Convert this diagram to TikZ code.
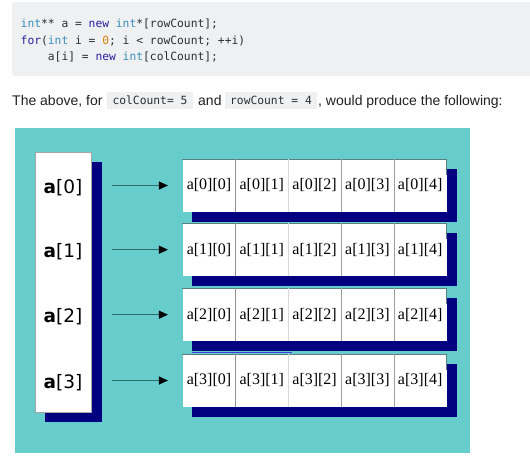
\documentclass[tikz,border=0pt]{standalone}
\usepackage{fontspec}
\setmainfont{Liberation Sans}
\newfontfamily\codefont{DejaVu Sans Mono}
\newfontfamily\cellfont{Liberation Serif}
\newfontfamily\labfont{DejaVu Sans}
\usetikzlibrary{arrows.meta,backgrounds}
\definecolor{panelcyan}{HTML}{66CCCC}
\definecolor{shadownavy}{HTML}{000080}
\definecolor{codebg}{HTML}{EEF0F2}
\definecolor{kwtype}{HTML}{3A8EBA}
\definecolor{kwnew}{HTML}{2A1E9E}
\definecolor{numlit}{HTML}{D2840A}
\definecolor{codetext}{HTML}{2E2E2E}
\definecolor{ptrline}{HTML}{2E6B6B}
\definecolor{rowedge}{HTML}{5A7F80}
\definecolor{strayblue}{HTML}{3C3CD8}
\newcommand{\ty}[1]{\textcolor{kwtype}{#1}}
\newcommand{\kw}[1]{\textcolor{kwnew}{#1}}
\newcommand{\nm}[1]{\textcolor{numlit}{#1}}
\tikzstyle{codeline} = [anchor=base west, inner sep=0pt, text=codetext,
    font=\codefont\fontsize{11.3}{13}\selectfont]
\tikzstyle{prose} = [anchor=base west, inner sep=0pt, text=black!87,
    font=\fontsize{14}{16}\selectfont]
\tikzstyle{inlinecode} = [fill=codebg, inner sep=0pt, minimum height=17pt,
    text=codetext, font=\codefont\fontsize{11.3}{13}\selectfont]
\tikzstyle{cell} = [fill=white, minimum width=52.8pt, minimum height=52.4pt,
    inner sep=0pt, font=\cellfont\fontsize{16}{16}\selectfont]
\tikzstyle{idxlabel} = [inner sep=0pt, font=\labfont\fontsize{18.5}{20}\selectfont]
\tikzstyle{ptr} = [ptrline, line width=1.2pt, shorten >=14.5pt,
    -{Triangle[length=9pt,width=8pt,black]}]

\begin{document}
\begin{tikzpicture}[x=1pt,y=-1pt]
    \useasboundingbox (0,0) rectangle (530,467);
    % code listing
    \node[codeline] (line1) at (20.5,27.3) {\ty{int}** a = \kw{new} \ty{int}*[rowCount];};
    \node[codeline] (line2) at (20.5,44) {\kw{for}(\ty{int} i = \nm{0}; i < rowCount; ++i)};
    \node[codeline] (line3) at (20.5,60.7) {\phantom{xxxx}a[i] = \kw{new} \ty{int}[colCount];};
    % sentence
    \node[prose] (intro) at (12,105.5) {The above, for};
    \node[inlinecode, minimum width=86pt] (colarg) at (150,100.5) {colCount= 5};
    \node[prose] (andword) at (198,105.5) {and};
    \node[inlinecode, minimum width=92pt] (rowarg) at (271,100.5) {rowCount = 4};
    \node[prose] (outro) at (318,105.5) {, would produce the following:};
    % panel
    \node[fill=white, draw=gray!70, line width=0.8pt, minimum width=56pt,
        minimum height=260pt, inner sep=0pt] (ptrcol) at (63.7,282) {};
    \begin{scope}[on background layer]
        \fill[white] (0,0) rectangle (530,467);
        \fill[codebg, rounded corners=3pt] (12,2) rectangle (536,76);
        \fill[panelcyan] (15,128) rectangle (470,452.7);
        \fill[shadownavy] ([shift={(10,10)}]ptrcol.north west)
            rectangle ([shift={(10,10)}]ptrcol.south east);
    \end{scope}
    \foreach \r/\y in {0/185.5,1/249.7,2/314.7,3/380.5}{
        \node[idxlabel] (lab\r) at (63,\y+2) {\textbf{a}[\r]};
        \foreach \c in {0,...,4}
            \node[cell] (c\r\c) at ({209+52.8*\c},\y) {a[\r][\c]};
        \begin{scope}[on background layer]
            \fill[shadownavy] ([shift={(10,10)}]c\r0.north west)
                rectangle ([shift={(10,10)}]c\r4.south east);
        \end{scope}
        \draw[rowedge, line width=0.9pt] (c\r0.north west) -- (c\r4.north east)
            -- ([yshift=-16pt]c\r4.north east);
        \draw[gray!85, line width=0.8pt] (c\r0.north east) -- (c\r0.south east);
        \draw[gray!30, line width=0.8pt] (c\r1.north east) -- (c\r1.south east);
        \draw[gray!75, line width=0.8pt] (c\r2.north east) -- (c\r2.south east);
        \draw[gray!75, line width=0.8pt] (c\r3.north east) -- (c\r3.south east);
        \coordinate (tail\r) at (112,\y);
        \draw[ptr] (tail\r) -- (c\r0.west);
    }
    \draw[strayblue, line width=0.9pt] ([xshift=10pt,yshift=2pt]c30.north west)
        -- ([xshift=4pt,yshift=2pt]c32.north west);
\end{tikzpicture}
\end{document}
